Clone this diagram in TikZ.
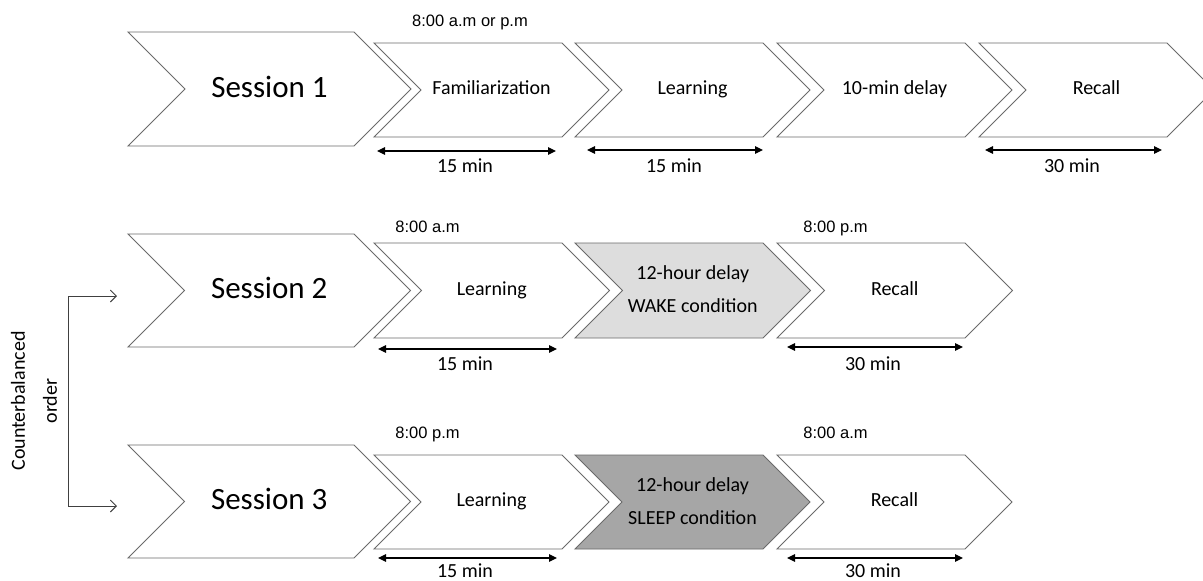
\documentclass[tikz,border=0pt]{standalone}
\usepackage{fontspec}
\newfontfamily\calib{Carlito}
\newfontfamily\arialf{Liberation Sans}
\usetikzlibrary{arrows.meta}
\definecolor{edgegray}{HTML}{6A6A6A}
\definecolor{wakefill}{HTML}{DDDDDD}
\definecolor{sleepfill}{HTML}{A6A6A6}
% #1 fill style, #2 name, #3 left x, #4 centre y, #5 body width, #6 height, #7 text style, #8 text
\newcommand{\chev}[8][fill=white]{%
  \draw[chevline,#1] (#3,{#4-#6/2}) -- ({#3+#5},{#4-#6/2}) -- ({#3+#5+#6/2},#4)
    -- ({#3+#5},{#4+#6/2}) -- (#3,{#4+#6/2}) -- ({#3+#6/2},#4) -- cycle;
  \node[#7] (#2) at ({#3+(#5+#6/2)/2},#4) {#8};}
\begin{document}
\begin{tikzpicture}[x=1pt,y=-1pt,
  chevline/.style={draw=edgegray,line width=0.9pt,line join=miter},
  sesstext/.style={inner sep=0pt,font=\calib\fontsize{31}{37}\selectfont,text height=20pt,text depth=4pt},
  steptext/.style={inner sep=0pt,font=\calib\fontsize{20}{24}\selectfont,text height=13.5pt,text depth=4.5pt},
  twotext/.style={inner sep=0pt,align=center,font=\calib\fontsize{20}{33}\selectfont,text height=46pt,text depth=2pt},
  durarrow/.style={{Triangle[length=8pt,width=7.5pt]}-{Triangle[length=8pt,width=7.5pt]},line width=1.2pt,black},
  durtext/.style={inner sep=0pt,anchor=base,font=\calib\fontsize{20}{24}\selectfont},
  timetext/.style={inner sep=0pt,anchor=base,font=\arialf\fontsize{16.5}{20}\selectfont},
  cbarrow/.style={{Straight Barb[length=6pt,width=12pt]}-{Straight Barb[length=6pt,width=12pt]},line width=0.9pt,draw={rgb,255:red,64;green,64;blue,64}}]
\useasboundingbox (0,0) rectangle (1203,581);
\clip (0,0) rectangle (1203,581);
\fill[white] (0,0) rectangle (1203,581);

% Row 1
\chev{s1}{128}{89}{226}{114}{sesstext}{Session 1}
\chev{fam1}{374}{90}{188}{94}{steptext}{Familiarization}
\chev{learn1}{575}{90}{188}{94}{steptext}{Learning}
\chev{delay1}{777}{90}{188}{94}{steptext}{10-min delay}
\chev{recall1}{979}{90}{188}{94}{steptext}{Recall}
\node[timetext] (t1) at (470,26) {8:00 a.m or p.m};

\coordinate (a1l) at (377,151); \coordinate (a1r) at (556,151);
\coordinate (a2l) at (587,150); \coordinate (a2r) at (763,150);
\coordinate (a3l) at (985,150); \coordinate (a3r) at (1162,150);
\draw[durarrow] (a1l) -- (a1r);
\draw[durarrow] (a2l) -- (a2r);
\draw[durarrow] (a3l) -- (a3r);
\node[durtext] (d1) at (465,172) {15 min};
\node[durtext] (d2) at (674,172) {15 min};
\node[durtext] (d3) at (1072,172) {30 min};

% Row 2
\chev{s2}{128}{290.5}{226}{113}{sesstext}{Session 2}
\chev{learn2}{374}{290.5}{188}{95}{steptext}{Learning}
\chev[fill=wakefill]{wake}{575}{290.5}{188}{95}{twotext}{12-hour delay\\WAKE condition}
\chev{recall2}{777}{290.5}{188}{95}{steptext}{Recall}
\node[timetext] (t2a) at (427.5,232) {8:00 a.m};
\node[timetext] (t2b) at (835.5,232) {8:00 p.m};
\coordinate (b1l) at (378,349); \coordinate (b1r) at (557,349);
\coordinate (b2l) at (787,347); \coordinate (b2r) at (963,347);
\draw[durarrow] (b1l) -- (b1r);
\draw[durarrow] (b2l) -- (b2r);
\node[durtext] (e1) at (465,370) {15 min};
\node[durtext] (e2) at (873,370) {30 min};

% Row 3
\chev{s3}{128}{501.5}{226}{113}{sesstext}{Session 3}
\chev{learn3}{374}{502}{188}{94}{steptext}{Learning}
\chev[fill=sleepfill]{sleep}{575}{502}{188}{94}{twotext}{12-hour delay\\SLEEP condition}
\chev{recall3}{777}{502}{188}{94}{steptext}{Recall}
\node[timetext] (t3a) at (427.5,438) {8:00 p.m};
\node[timetext] (t3b) at (835.5,438) {8:00 a.m};
\coordinate (c1l) at (378,558); \coordinate (c1r) at (557,558);
\coordinate (c2l) at (787,558); \coordinate (c2r) at (963,558);
\draw[durarrow] (c1l) -- (c1r);
\draw[durarrow] (c2l) -- (c2r);
\node[durtext] (f1) at (465,577) {15 min};
\node[durtext] (f2) at (873,577) {30 min};

% Counterbalanced order
\coordinate (cb2) at (117,296);
\coordinate (cb3) at (117,506);
\coordinate (cbt) at (68,296);
\coordinate (cbb) at (68,506);
\draw[cbarrow] (cb2) -- (cbt) -- (cbb) -- (cb3);
\node[inner sep=0pt,rotate=90,align=center,font=\calib\fontsize{20}{32}\selectfont] (cb) at (34,401) {Counterbalanced\\order};
\end{tikzpicture}
\end{document}
